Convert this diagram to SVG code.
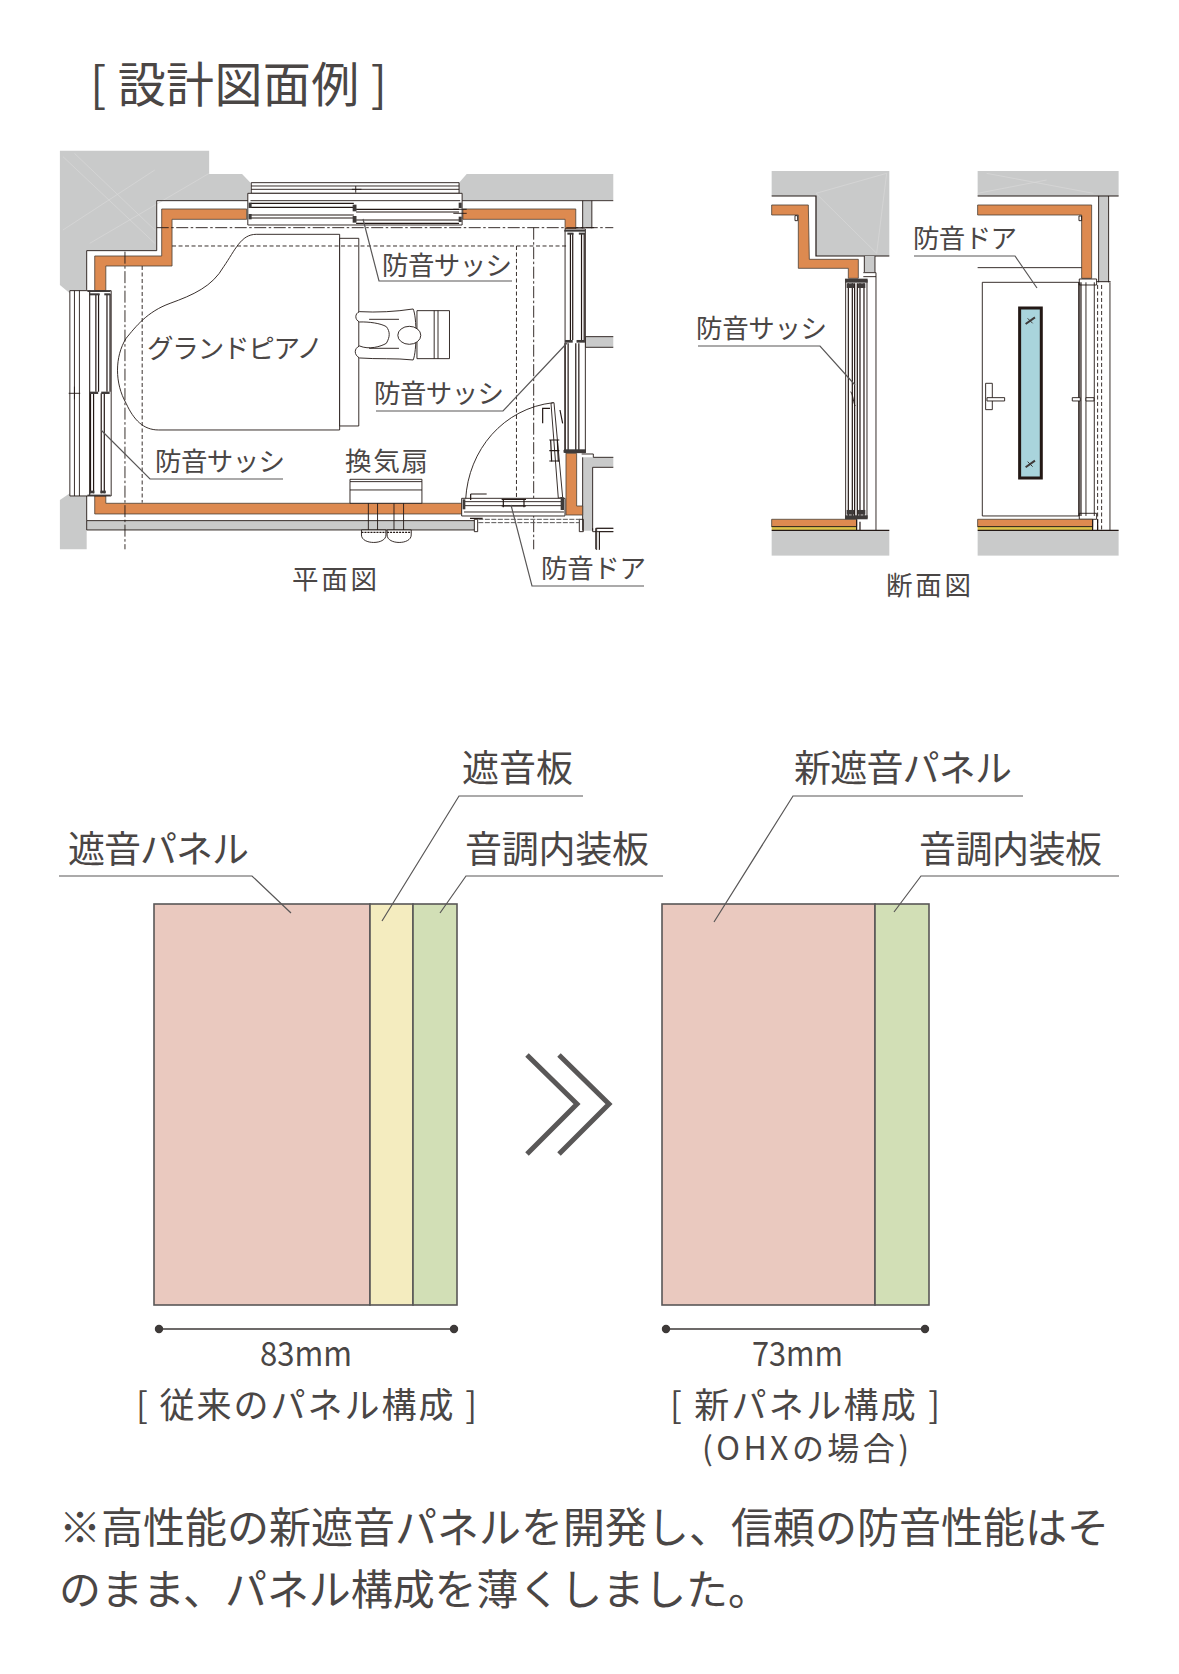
<svg xmlns="http://www.w3.org/2000/svg" width="1179" height="1674" viewBox="0 0 1179 1674">
<style>
text{font-family:"Noto Sans CJK JP","Noto Sans",sans-serif;font-weight:400;fill:#4a4645}
.l{font-size:26.5px}.m{font-size:37px}.s{font-size:35px}
.z *{vector-effect:non-scaling-stroke}
.w{fill:#c9caca;stroke:none}
.o{fill:#dd8a50;stroke:#4a4036;stroke-width:.8}
.k{fill:none;stroke:#231815;stroke-width:.9}
.kt{fill:none;stroke:#231815;stroke-width:1.2}
.f{fill:#fff;stroke:#231815;stroke-width:.9}
.d{fill:#3e3a39;stroke:none}
.da{fill:none;stroke:#231815;stroke-width:.9;stroke-dasharray:4 2.5}
.dd{fill:none;stroke:#231815;stroke-width:.9;stroke-dasharray:12 2.5 2.5 2.5}
.ldr{fill:none;stroke:#595757;stroke-width:1.2}
.pn{stroke:#595757;stroke-width:1.6}
</style>
<rect width="1179" height="1674" fill="#fff"/>
<g id="title"><text x="90" y="102" font-size="48" textLength="297" lengthAdjust="spacing">[ 設計図面例 ]</text></g>

<g id="plan" class="z" transform="translate(40 130) scale(.3827 .3333)">
<path class="w" d="M52 62H442V132H528L550 158V212H305V362H122V490H78L52 465Z"/>
<path class="w" d="M1095 158L1115 132H1498V210H1095Z"/>
<path class="w" d="M52 1110L78 1090H122V1258H52Z"/>
<path class="w" d="M1418 212H1442V295H1418Z"/>
<path class="w" d="M1425 620H1498V652H1425Z"/>
<path d="M60 80L300 340M90 70L300 300M442 130L130 340M60 300L300 120" fill="none" stroke="#d8d9d9" stroke-width=".7"/>
<path class="k" d="M550 212H305V362H122V480M1095 212H1498M122 1095V1172"/>
<path class="k" d="M1418 212V295M1442 212V295M1425 620H1498M1425 652H1498M1425 620V652"/>
<rect x="122" y="1172" width="1015" height="28" fill="#c9caca" stroke="#231815" stroke-width=".9"/>
<path class="o" d="M318 237H540V268H345V408H172V482H143V378H318Z"/>
<path class="o" d="M1105 237H1400V297H1372V268H1105Z"/>
<path class="o" d="M143 1098H172V1120H1105V1152H143Z"/>
<g id="plan-top-sash">
<path class="k" d="M552 158H1095V212M552 158V212M552 168H1095M552 178H1095M552 190H1095M815 178H840M825 168V188"/>
<rect class="f" x="543" y="190" width="560" height="95"/>
<path class="k" d="M550 212H1098"/>
<path class="kt" d="M550 220H820M550 232H820M826 238H1095M826 246H1095M550 255H820M550 264H820M826 270H1095M826 280H1095"/>
<rect class="d" x="545" y="218" width="8" height="16"/><rect class="d" x="545" y="252" width="8" height="16"/><rect class="d" x="817" y="224" width="10" height="20"/><rect class="d" x="817" y="258" width="10" height="20"/><rect class="d" x="1094" y="218" width="8" height="16"/><rect class="d" x="1094" y="260" width="8" height="16"/>
<path class="k" d="M1080 238H1115M1080 250H1115"/>
</g>
<g id="plan-left-sash">
<path class="f" d="M78 482H130V1098H78Z"/>
<path class="k" d="M90 482V1098M103 482V1098M75 790H105M90 770V808"/>
<path class="f" d="M130 482H186V1098H130Z"/>
<path class="kt" d="M146 492V785M153 492V785M175 492V785M183 492V785M132 790V1090M140 790V1090M160 790V1090M168 790V1090"/>
<rect class="d" x="124" y="482" width="60" height="4"/><rect class="d" x="128" y="490" width="28" height="6"/><rect class="d" x="168" y="490" width="16" height="6"/><rect class="d" x="130" y="785" width="22" height="7"/><rect class="d" x="160" y="785" width="22" height="7"/><rect class="d" x="124" y="1094" width="60" height="4"/><rect class="d" x="128" y="1082" width="14" height="8"/><rect class="d" x="158" y="1082" width="14" height="8"/>
</g>
<g id="plan-right-sash">
<path class="f" d="M1372 297H1425V968H1372Z"/>
<path class="kt" d="M1386 310V630M1392 310V630M1415 310V630M1422 310V630M1372 640V960M1380 640V960M1400 640V960M1408 640V960"/>
<rect class="d" x="1370" y="300" width="55" height="5"/><rect class="d" x="1378" y="308" width="16" height="6"/><rect class="d" x="1408" y="308" width="16" height="6"/><rect class="d" x="1372" y="630" width="20" height="8"/><rect class="d" x="1402" y="630" width="22" height="8"/><rect class="d" x="1368" y="960" width="58" height="8"/>
<path class="k" d="M1400 293H1448"/>
</g>
<g id="plan-piano">
<path fill="#fff" stroke="#231815" stroke-width=".9" d="M783 313H565C525 313 510 360 480 410C450 470 400 495 340 520C280 545 250 590 225 625C195 680 195 760 225 820C245 870 270 900 310 900H783Z"/>
<rect class="f" x="783" y="325" width="50" height="563"/>
</g>
<g id="plan-pianist">
<rect class="f" x="985" y="542" width="85" height="144"/>
<path class="k" d="M1030 542V686M1040 542V686"/>
<path class="f" d="M975 537C985 560 985 665 975 690C930 684 880 688 835 684C820 675 820 655 835 648C860 660 890 650 905 640C915 620 915 605 905 590C890 580 860 575 835 576C822 570 822 550 835 545C880 548 930 545 975 537Z"/>
<path class="k" d="M860 568H938M860 655H938"/>
<ellipse class="f" cx="965" cy="616" rx="30" ry="27"/>
</g>
<g id="plan-fan">
<path class="f" d="M810 1055H998V1120H810Z"/>
<path class="k" d="M810 1048H998V1055M810 1048V1055M810 1080H998"/>
<path class="k" d="M858 1120V1200M882 1120V1200M925 1120V1200M950 1120V1200"/>
<path class="f" d="M840 1200H904V1215C904 1245 840 1245 840 1215Z"/><path class="f" d="M907 1200H970V1215C970 1245 907 1245 907 1215Z"/>
<path class="kt" d="M840 1207H904M907 1207H970" stroke-dasharray="2 1"/>
</g>
<path class="dd" d="M305 293H1498M222 365V1258M1290 293V1258"/>
<path class="da" d="M345 348H1375M267 408V1118M1245 348V1105"/>
<path class="k" d="M1452 1258V1195H1498M1462 1258V1205H1498"/>
</g>

<g id="plan-door" class="z" transform="translate(440 380) scale(.3333)">
<path class="w" d="M428 232H520V262H458V452H428Z"/>
<path class="k" d="M425 222H460V232H520M458 262H520M458 262V452M428 232V452M418 418V455H430V418ZM458 445V455H470V445H520M470 455H520M470 455V510M478 455V510"/>
<path class="o" d="M378 220H410V378H428V405H378Z"/>
<path class="k" d="M77 358C85 210 190 85 340 68"/>
<path class="f" d="M333 70L342 68L368 352L355 355Z"/>
<path class="kt" d="M308 130V85H330M360 90L368 130"/>
<path class="kt" d="M332 180L335 245M352 180L355 245M328 180H358M328 212H358M328 243H358"/>
<rect class="f" x="65" y="355" width="310" height="53"/>
<path class="k" d="M72 365H372M72 377H372M72 396H372"/>
<path class="kt" d="M185 358H258M185 378H258M190 356V382M252 356V382"/>
<path class="kt" d="M92 342H140M92 342V360M90 415H128"/>
<rect class="d" x="68" y="358" width="8" height="30"/><rect class="d" x="362" y="352" width="10" height="38"/>
<path fill="none" stroke="#595757" stroke-width="1" stroke-dasharray="5 1.5" d="M115 418H420M115 428H420"/>
<rect class="f" x="103" y="418" width="10" height="37"/>
<rect class="d" x="372" y="208" width="66" height="10"/>
</g>

<g id="section-sash" class="z" transform="translate(680 150) scale(.3333)">
<path class="w" d="M275 63H628V318H408V138H275Z"/>
<path d="M408 130L620 70L590 310M408 130L590 310" fill="none" stroke="#d8d9d9" stroke-width=".7"/>
<path class="kt" d="M275 138H408V318H628"/>
<path class="w" d="M553 318H585V366H553Z"/><path class="k" d="M553 318V366M585 318V366"/>
<path class="o" d="M275 165H385L388 328H535V385H505V355H355V195H275Z"/>
<path class="k" d="M345 197H353V212H345Z"/>
<path class="k" d="M550 368H588V1140M550 380H588"/>
<rect x="275" y="1142" width="353" height="75" fill="#c9caca"/>
<rect class="o" x="275" y="1108" width="255" height="22"/>
<rect x="275" y="1130" width="255" height="10" fill="#dcc24a"/>
<path class="kt" d="M275 1141H628M530 1108V1140M540 1115V1140"/>
<path class="k" d="M275 1130H530"/>
<g id="section-sash-frames">
<rect class="f" x="497" y="390" width="64" height="715"/>
<path class="kt" d="M505 400V1100M517 400V1100M524 400V1100M532 400V1100M540 400V1100M552 400V1100"/>
<path class="k" d="M512 725C520 735 520 760 526 768"/>
<rect class="d" x="495" y="386" width="68" height="12"/><rect class="d" x="495" y="1096" width="68" height="12"/>
<rect class="d" x="500" y="400" width="22" height="14"/><rect class="d" x="534" y="400" width="22" height="14"/><rect class="d" x="500" y="1080" width="22" height="14"/><rect class="d" x="534" y="1080" width="22" height="14"/>
</g>
</g>

<g id="section-door" class="z" transform="translate(680 150) scale(.3333)">
<path class="w" d="M893 63H1316V138H893Z"/>
<path d="M920 70L1240 130M893 130L1100 90" fill="none" stroke="#d8d9d9" stroke-width=".7"/>
<path class="w" d="M1256 138H1286V397H1256Z"/><path class="k" d="M1256 138V397M1286 138V397"/>
<path class="kt" d="M893 138H1316"/>
<path class="o" d="M893 165H1235V385H1205V195H893Z"/>
<path class="k" d="M1197 198H1205V212H1197ZM893 353H1205"/>
<rect class="f" x="907" y="397" width="290" height="701"/>
<rect x="1019" y="474" width="65" height="510" fill="#a9d4dc" stroke="#231815" stroke-width="3"/>
<path d="M1037 522L1065 502M1037 952L1065 932" stroke="#3e3a39" stroke-width="2"/>
<path d="M1043 505L1058 520M1043 935L1058 950" stroke="#3e3a39" stroke-width="1"/>
<rect class="f" x="917" y="700" width="20" height="79"/>
<rect class="f" x="921" y="743" width="53" height="10"/>
<path class="kt" d="M1197 397V1098M1203 397V1098"/>
<path class="k" d="M1218 397V1098M1243 397V1098M1290 397V1140M1198 387H1250V405H1198ZM1198 1090H1250V1108H1198ZM1250 395H1292"/>
<path class="da" d="M1253 405V1140M1265 405V1140"/>
<rect class="f" x="1177" y="743" width="24" height="10"/><rect class="f" x="1218" y="743" width="24" height="10"/>
<rect x="893" y="1142" width="423" height="75" fill="#c9caca"/>
<rect class="o" x="893" y="1108" width="345" height="22"/>
<rect x="893" y="1130" width="345" height="10" fill="#dcc24a"/>
<path class="kt" d="M893 1141H1316M1238 1108V1140M1253 1108V1140"/>
<path class="k" d="M893 1130H1238"/>
</g>

<g id="labels-plan">
<text class="l" x="382" y="275" textLength="130">防音サッシ</text>
<text class="l" x="147" y="358" textLength="176">グランドピアノ</text>
<text class="l" x="374" y="403" textLength="130">防音サッシ</text>
<text class="l" x="155" y="471" textLength="130">防音サッシ</text>
<text class="l" x="345" y="471" textLength="83">換気扇</text>
<text class="l" x="541" y="578" textLength="105">防音ドア</text>
<text class="l" x="292" y="589" textLength="85">平面図</text>
<text class="l" x="696" y="338" textLength="131">防音サッシ</text>
<text class="l" x="913" y="248" textLength="104">防音ドア</text>
<text class="l" x="886" y="595" textLength="85">断面図</text>
</g>

<g id="panel-old">
<rect class="pn" x="154" y="904" width="216" height="401" fill="#eac9bf"/>
<rect class="pn" x="370" y="904" width="43" height="401" fill="#f4ecbf"/>
<rect class="pn" x="413" y="904" width="44" height="401" fill="#d2dfb6"/>
</g>
<g id="panel-new">
<rect class="pn" x="662" y="904" width="213" height="401" fill="#eac9bf"/>
<rect class="pn" x="875" y="904" width="54" height="401" fill="#d2dfb6"/>
</g>
<g id="arrow" fill="none" stroke="#595757" stroke-width="5">
<path d="M527 1055L577 1104L527 1154"/><path d="M559 1055L609 1104L559 1154"/>
</g>
<g id="dims" stroke="#3e3a39" stroke-width="1.4" fill="#3e3a39">
<path d="M159 1329H454M666 1329H925"/>
<circle cx="159" cy="1329" r="3.5"/><circle cx="454" cy="1329" r="3.5"/><circle cx="666" cy="1329" r="3.5"/><circle cx="925" cy="1329" r="3.5"/>
</g>

<g id="connectors" class="ldr">
<path d="M363 219L379 281H512"/>
<path d="M567 343L503 411H376"/>
<path d="M101 430L150 479H283"/>
<path d="M511 505L532 586H644"/>
<path d="M855 385L820 346H698"/>
<path d="M1037 288L1015 256H914"/>
<path d="M291 913L252 876H59"/>
<path d="M382 921L459 796H583"/>
<path d="M440 913L466 876H663"/>
<path d="M714 922L793 796H1023"/>
<path d="M894 912L921 876H1119"/>
</g>

<g id="labels-panel">
<text class="m" x="68" y="863" textLength="181">遮音パネル</text>
<text class="m" x="462" y="782" textLength="111">遮音板</text>
<text class="m" x="465" y="863" textLength="184">音調内装板</text>
<text class="m" x="794" y="782" textLength="218">新遮音パネル</text>
<text class="m" x="919" y="863" textLength="183">音調内装板</text>
<text x="260" y="1366" font-size="34" textLength="92" lengthAdjust="spacingAndGlyphs">83mm</text>
<text x="752" y="1366" font-size="34" textLength="91" lengthAdjust="spacingAndGlyphs">73mm</text>
<text class="s" x="136" y="1418" textLength="341">[ 従来のパネル構成 ]</text>
<text class="s" x="670" y="1418" textLength="270">[ 新パネル構成 ]</text>
<text x="702" y="1460" font-size="32" textLength="207">(OHXの場合)</text>
</g>
<g id="note">
<text x="59" y="1543" font-size="42" textLength="1050">※高性能の新遮音パネルを開発し、信頼の防音性能はそ</text>
<text x="59" y="1605" font-size="42" textLength="711">のまま、パネル構成を薄くしました。</text>
</g>
</svg>
